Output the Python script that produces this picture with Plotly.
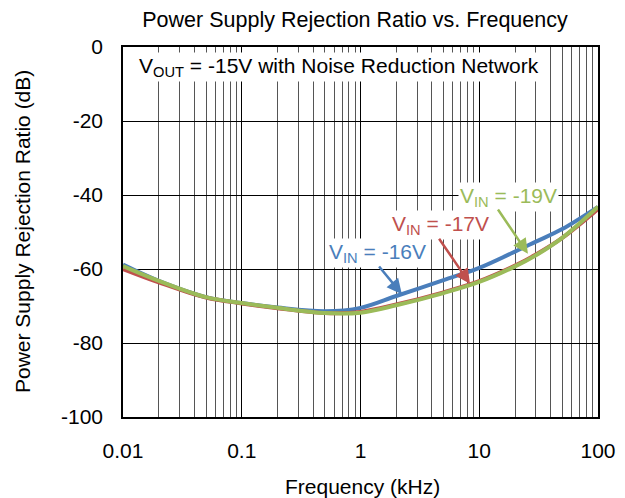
import numpy as np
import plotly.graph_objects as go

freq = [0.01, 0.02, 0.05, 0.1, 0.2, 0.5, 1, 2, 5, 10, 20, 30, 50, 100]
psrr_16 = [-58.8, -63.2, -67.6, -69.2, -70.4, -71.4, -70.5, -67.3, -63.0, -59.7, -55.3, -52.6, -49.2, -43.2]
psrr_17 = [-60.0, -63.6, -67.7, -69.3, -70.6, -71.9, -71.6, -69.6, -66.3, -63.3, -59.1, -56.1, -51.6, -43.8]
psrr_19 = [-59.2, -63.2, -67.6, -69.2, -70.5, -71.9, -71.8, -69.8, -66.5, -63.5, -59.3, -56.3, -51.6, -43.2]

ytick_vals = [0, -20, -40, -60, -80, -100]
ytick_text = ["0", "-20", "-40", "-60", "-80", "-100"]
xtick_vals = [0.01, 0.1, 1, 10, 100]
xtick_text = ["0.01", "0.1", "1", "10", "100"]

blue = "#4a7ebb"
red = "#c0504d"
green = "#9bbb59"

fig = go.Figure()
for ys, col in [(psrr_16, blue), (psrr_17, red), (psrr_19, green)]:
    fig.add_trace(go.Scatter(x=freq, y=ys, mode="lines",
                             line=dict(color=col, width=4, shape="spline", smoothing=1.0),
                             showlegend=False, hoverinfo="skip"))

font = "Liberation Sans"
fs = 21
lx = np.log10

ann = [
    dict(x=-1.882, y=-5.4, xanchor="left", yanchor="middle",
         text="V<sub>OUT</sub> = -15V with Noise Reduction Network", showarrow=False,
         bgcolor="white", font=dict(size=fs, color="black", family=font)),
    dict(x=lx(17.5), y=-40.5, text="V<sub>IN</sub> = -19V", showarrow=False, bgcolor="white",
         font=dict(size=fs, color=green, family=font)),
    dict(x=lx(4.76), y=-48.1, text="V<sub>IN</sub> = -17V", showarrow=False, bgcolor="white",
         font=dict(size=fs, color=red, family=font)),
    dict(x=lx(1.38), y=-55.7, text="V<sub>IN</sub> = -16V", showarrow=False, bgcolor="white",
         font=dict(size=fs, color=blue, family=font)),
    dict(x=-0.2126, y=0.5, xref="paper", yref="paper", text="Power Supply Rejection Ratio (dB)",
         textangle=-90, showarrow=False, xanchor="center", yanchor="middle",
         font=dict(size=fs, color="black", family=font)),
    dict(x=0.505, y=-0.189, xref="paper", yref="paper", text="Frequency (kHz)",
         showarrow=False, xanchor="center", yanchor="middle",
         font=dict(size=fs, color="black", family=font)),
]
arrows = [((14.1, -43.5), (25.7, -55.9), green),
          ((4.5, -51.4), (8.36, -64.0), red),
          ((1.40, -58.9), (2.23, -66.8), blue)]
for (tx, ty), (hx, hy), col in arrows:
    ann.append(dict(x=lx(hx), y=hy, ax=lx(tx), ay=ty, axref="x", ayref="y", xref="x", yref="y",
                    text="", showarrow=True, arrowhead=2, arrowsize=1.2, arrowwidth=2.5, arrowcolor=col))

fig.update_layout(
    width=625, height=498,
    margin=dict(l=123, r=27, t=47, b=81, autoexpand=False),
    paper_bgcolor="white", plot_bgcolor="white",
    font=dict(family=font, size=fs, color="black"),
    title=dict(text="Power Supply Rejection Ratio vs. Frequency", x=0.568, xanchor="center",
               y=0.96, yanchor="middle", font=dict(size=21.5, family=font, color="black")),
    annotations=ann,
    xaxis=dict(type="log", range=[-2, 2], tickvals=xtick_vals, ticktext=xtick_text,
               showgrid=True, gridcolor="black", gridwidth=1,
               minor=dict(dtick="D1", showgrid=True, gridcolor="#555555", gridwidth=1, ticks=""),
               showline=True, linecolor="black", linewidth=1.5, mirror=True, ticks="",
               ticklabelstandoff=14, automargin=False,
               tickfont=dict(size=fs, family=font), zeroline=False),
    yaxis=dict(range=[-100, 0], tickvals=ytick_vals, ticktext=ytick_text,
               showgrid=True, gridcolor="black", gridwidth=1,
               showline=True, linecolor="black", linewidth=1.5, mirror=True, ticks="",
               ticklabelstandoff=14, automargin=False,
               tickfont=dict(size=fs, family=font), zeroline=False),
)

fig.write_html("out.html", config={"displayModeBar": False},
               post_script="document.body.style.margin='0px';")
